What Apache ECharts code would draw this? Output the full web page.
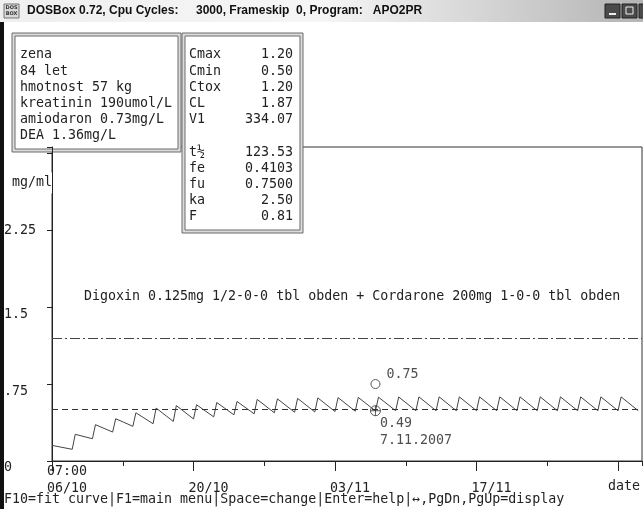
<!DOCTYPE html>
<html>
<head>
<meta charset="utf-8">
<title>APO2PR</title>
<script src="https://cdn.jsdelivr.net/npm/echarts@6/dist/echarts.min.js"></script>
<style>
  html, body { margin: 0; padding: 0; background: #fff; }
  #chart { width: 643px; height: 509px; }
</style>
</head>
<body>
<div id="chart"></div>
<script>
// ---- data -------------------------------------------------------------
// time axis: days from 06/10 07:00
const xTickDays   = [0, 14, 28, 42];
const xTickLabels = ['06/10', '20/10', '03/11', '17/11'];
const startClock  = '07:00';

// the top value (3) sits under the info panel
const yTickValues = [0, 0.75, 1.5, 2.25];
const yTickLabels = ['0', '.75', '1.5', '2.25'];

// simulated serum level (mg/ml), dose every other day
const initialLevel = 0.152;
const doseDays = [2, 4, 6, 8, 10, 12, 14, 16, 18, 20, 22, 24, 26, 28,
                  30, 32, 34, 36, 38, 40, 42, 44, 46, 48, 50, 52, 54, 56];
const troughBeforeDose = [0.114, 0.217, 0.282, 0.338, 0.363, 0.386, 0.410, 0.430,
                          0.450, 0.460, 0.470, 0.475, 0.478, 0.482, 0.485, 0.488,
                          0.490, 0.490, 0.490, 0.490, 0.490, 0.490, 0.490, 0.490,
                          0.490, 0.490, 0.490, 0.490];
const peakAfterDose = [0.260, 0.354, 0.412, 0.470, 0.516, 0.540, 0.548, 0.570,
                       0.580, 0.600, 0.606, 0.610, 0.615, 0.618, 0.620, 0.622,
                       0.624, 0.625, 0.625, 0.625, 0.625, 0.625, 0.625, 0.625,
                       0.625, 0.625, 0.625, 0.625];
const tailDay = 58;
const tailLevel = 0.490;

// therapeutic window
const cmaxLevel = 1.20;
const cminLevel = 0.50;

// sample taken 7.11.2007
const sampleDay = 32;
const sampleDate = '7.11.2007';
const measuredLevel = 0.75;
const modelLevel = 0.49;

const regimen = 'Digoxin 0.125mg 1/2-0-0 tbl obden + Cordarone 200mg 1-0-0 tbl obden';

const patientLines = ['zena', '84 let', 'hmotnost 57 kg', 'kreatinin 190umol/L',
                      'amiodaron 0.73mg/L', 'DEA 1.36mg/L'];
const paramNames  = ['Cmax', 'Cmin', 'Ctox', 'CL', 'V1', '', 't\u00BD', 'fe', 'fu', 'ka', 'F'];
const paramValues = ['1.20', '0.50', '1.20', '1.87', '334.07', '', '123.53', '0.4103', '0.7500', '2.50', '0.81'];

const statusLine = 'F10=fit curve|F1=main menu|Space=change|Enter=help|\u2194,PgDn,PgUp=display';

// ---- styling ----------------------------------------------------------
const MONO = '"DejaVu Sans Mono", "Liberation Mono", monospace';
const FS = 13.3;
const INK = '#222';
const riseTime = 0.3;

// ---- build the curve --------------------------------------------------
const curve = [[0, initialLevel]];
doseDays.forEach((d, i) => {
  curve.push([d, troughBeforeDose[i]]);
  curve.push([d + riseTime, peakAfterDose[i]]);
});
curve.push([tailDay, tailLevel]);

const xMax = 58.37;
const yMax = 3.06;

function yLabel(v) {
  const i = yTickValues.findIndex(t => Math.abs(t - v) < 1e-6);
  if (i < 0) return '';
  const style = v === 2.25 ? 'mid' : 'dn';
  return '{' + style + '|' + yTickLabels[i] + '}';
}
function xLabel(v) {
  const i = xTickDays.findIndex(t => Math.abs(t - v) < 1e-6);
  if (i < 0) return '';
  return (i === 0 ? startClock : '') + '\n' + xTickLabels[i];
}

const txt = { fontFamily: MONO, fontSize: FS, color: INK };

// panel helper (double framed box with text)
function panel(x, y, w, h, children) {
  return {
    type: 'group', x: x, y: y, z: 100,
    children: [
      { type: 'rect', shape: { x: 0, y: 0, width: w, height: h },
        style: { fill: '#dcdcdc', stroke: '#6a6a6a', lineWidth: 1 } },
      { type: 'rect', shape: { x: 3, y: 3, width: w - 6, height: h - 6 },
        style: { fill: '#fff', stroke: '#6a6a6a', lineWidth: 1 } }
    ].concat(children)
  };
}

const rowY = r => 22 + r * 16.2;

const leftPanelTexts = patientLines.map((s, r) => ({
  type: 'text', x: 8, y: rowY(r),
  style: { text: s, font: FS + 'px ' + MONO, fill: INK, textVerticalAlign: 'middle' }
}));
const rightPanelTexts = [];
paramNames.forEach((s, r) => {
  if (!s) return;
  rightPanelTexts.push({ type: 'text', x: 7, y: rowY(r),
    style: { text: s, font: FS + 'px ' + MONO, fill: INK, textVerticalAlign: 'middle' } });
  rightPanelTexts.push({ type: 'text', x: 111, y: rowY(r),
    style: { text: paramValues[r], font: FS + 'px ' + MONO, fill: INK,
             textAlign: 'right', textVerticalAlign: 'middle' } });
});

const crossCircle = 'path://M0,5A5,5 0 1,1 10,5A5,5 0 1,1 0,5ZM5,0L5,10M0,5L10,5';

const option = {
  animation: false,
  backgroundColor: '#fff',
  title: {
    text: regimen, left: 84, top: 290, padding: 0,
    textStyle: { fontFamily: MONO, fontSize: FS, fontWeight: 'normal', color: INK }
  },
  grid: { left: 52, right: -2, top: 147, bottom: 48, show: true,
          borderColor: '#333', borderWidth: 1, backgroundColor: 'transparent' },
  xAxis: [{
    type: 'value', min: 0, max: xMax, interval: 14,
    axisLine: { lineStyle: { color: INK, width: 1 } },
    axisTick: { length: 10, lineStyle: { color: INK } },
    splitLine: { show: false },
    axisLabel: Object.assign({ formatter: xLabel, align: 'left', margin: 2, lineHeight: 17,
                               padding: [0, 0, 0, -5], showMaxLabel: false }, txt),
    name: 'date', nameLocation: 'end', nameGap: -2,
    nameTextStyle: Object.assign({ align: 'right', verticalAlign: 'top', padding: [19, 0, 0, 0] }, txt)
  }, {
    type: 'value', min: 0, max: xMax, interval: 7, position: 'bottom',
    axisLine: { show: false },
    axisTick: { length: 5, lineStyle: { color: INK } },
    axisLabel: { show: false },
    splitLine: { show: false }
  }],
  yAxis: {
    type: 'value', min: 0, max: yMax, interval: 0.75,
    axisLine: { show: true, lineStyle: { color: INK, width: 1 } },
    axisTick: { show: true, length: 5, lineStyle: { color: INK } },
    splitLine: { show: false },
    axisLabel: {
      formatter: yLabel, align: 'left', margin: 48,
      rich: {
        mid: Object.assign({}, txt),
        dn:  Object.assign({ padding: [14, 0, 0, 0] }, txt)
      }
    },
    name: 'mg/ml', nameLocation: 'end', nameGap: -36,
    nameTextStyle: Object.assign({ align: 'right', verticalAlign: 'middle',
                                   backgroundColor: '#fff', padding: [4, 0, 4, 0] }, txt)
  },
  series: [{
    type: 'line', data: curve, symbol: 'none', xAxisIndex: 0,
    lineStyle: { color: '#444', width: 1 },
    markLine: {
      silent: true, symbol: 'none', label: { show: false },
      data: [
        { yAxis: cmaxLevel, lineStyle: { color: '#444', width: 1, type: [10, 3, 2, 3] } },
        { yAxis: cminLevel, lineStyle: { color: '#333', width: 1, type: [6, 4] } }
      ]
    },
    z: 2
  }, {
    type: 'scatter', xAxisIndex: 0, data: [[sampleDay, measuredLevel]],
    symbol: 'circle', symbolSize: 9,
    itemStyle: { color: '#fff', borderColor: '#333', borderWidth: 1 },
    label: Object.assign({ show: true, position: [16, -11],
                           formatter: p => p.value[1].toFixed(2) }, txt),
    z: 5
  }, {
    type: 'scatter', xAxisIndex: 0, data: [[sampleDay, modelLevel]],
    symbol: crossCircle, symbolSize: 10,
    itemStyle: { color: 'rgba(255,255,255,0)', borderColor: '#333', borderWidth: 1 },
    label: Object.assign({ show: true, position: [10, 10], lineHeight: 17,
                           formatter: p => p.value[1].toFixed(2) + '\n' + sampleDate }, txt),
    z: 5
  }],
  graphic: [
    // title bar
    { type: 'rect', z: 200, shape: { x: 0, y: 0, width: 643, height: 22 },
      style: { fill: new echarts.graphic.LinearGradient(0, 0, 1, 0, [
        { offset: 0, color: '#efefef' }, { offset: 0.5, color: '#f6f6f6' }, { offset: 1, color: '#b4b4b4' }]) } },
    { type: 'rect', z: 201, shape: { x: 4, y: 4, width: 15, height: 14 },
      style: { fill: '#d8d8d8', stroke: '#777', lineWidth: 1 } },
    { type: 'text', z: 202, x: 11.5, y: 11, style: { text: 'DOS\nBOX', font: 'bold 5px "DejaVu Sans"',
      fill: '#333', textAlign: 'center', textVerticalAlign: 'middle', lineHeight: 6 } },
    { type: 'text', z: 202, x: 27, y: 11, style: { text: 'DOSBox 0.72, Cpu Cycles:',
      font: 'bold 12px "Liberation Sans", Arial, sans-serif', fill: '#111', textVerticalAlign: 'middle' } },
    { type: 'text', z: 202, x: 196, y: 11, style: { text: '3000, Frameskip  0, Program:   APO2PR',
      font: 'bold 12px "Liberation Sans", Arial, sans-serif', fill: '#111', textVerticalAlign: 'middle' } },
    { type: 'rect', z: 201, shape: { x: 605, y: 4, width: 15, height: 14 }, style: { fill: '#4a4a4a', stroke: '#222' } },
    { type: 'rect', z: 202, shape: { x: 609, y: 13, width: 7, height: 2 }, style: { fill: '#eee' } },
    { type: 'rect', z: 201, shape: { x: 622, y: 4, width: 15, height: 14 }, style: { fill: '#4a4a4a', stroke: '#222' } },
    { type: 'rect', z: 202, shape: { x: 626, y: 7, width: 7, height: 7 }, style: { fill: 'none', stroke: '#eee' } },
    { type: 'rect', z: 201, shape: { x: 639, y: 4, width: 15, height: 14 }, style: { fill: '#4a4a4a', stroke: '#222' } },
    // window frame on the left
    { type: 'rect', z: 200, shape: { x: 0, y: 22, width: 4, height: 487 }, style: { fill: '#111' } },
    // info panels
    panel(12, 33, 169, 119, leftPanelTexts),
    panel(182, 33, 121, 200, rightPanelTexts),
    // status line
    { type: 'text', z: 150, x: 4, y: 500, style: { text: statusLine, font: FS + 'px ' + MONO,
      fill: INK, textVerticalAlign: 'middle' } }
  ]
};

const chart = echarts.init(document.getElementById('chart'), null, { renderer: 'canvas' });
chart.setOption(option);
</script>
</body>
</html>
